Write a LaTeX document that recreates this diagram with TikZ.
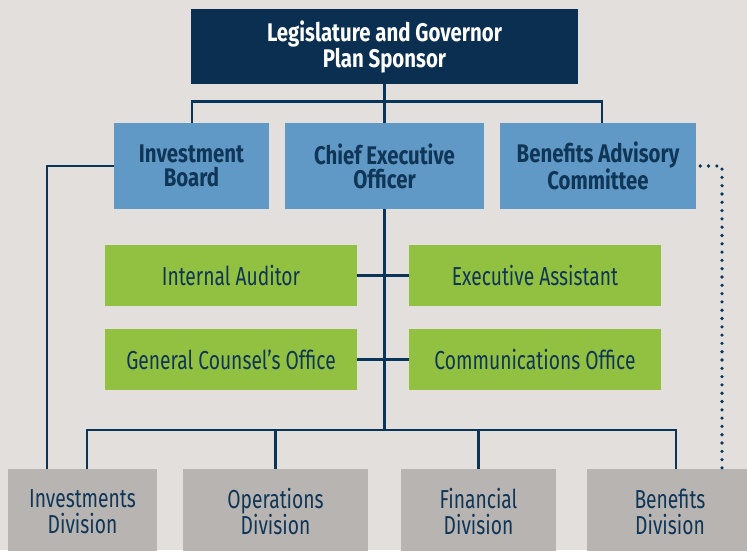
\documentclass[tikz,border=0pt]{standalone}
\usepackage{fontspec}
\setmainfont{Fira Sans}[FakeStretch=0.74, BoldFeatures={FakeStretch=0.8}]
\usetikzlibrary{calc}
\definecolor{bgc}{HTML}{E2DFDC}
\definecolor{navy}{HTML}{0A2F50}
\definecolor{linec}{HTML}{0B3558}
\definecolor{bluec}{HTML}{6199C6}
\definecolor{greenc}{HTML}{92C142}
\definecolor{grayc}{HTML}{B7B4B1}
\definecolor{txt}{HTML}{0F3557}
\tikzset{
  box/.style={rectangle, inner sep=0pt, align=center, font=\fontsize{26}{26}\selectfont},
  topbox/.style={box, fill=navy, text=white, font=\fontsize{25.5}{26}\selectfont\bfseries},
  bluebox/.style={box, fill=bluec, text=txt, minimum height=86pt, font=\fontsize{25.5}{24}\selectfont\bfseries},
  greenbox/.style={box, fill=greenc, text=txt, minimum width=252pt, minimum height=61pt},
  graybox/.style={box, fill=grayc, text=txt, minimum height=86pt, font=\fontsize{26}{26}\selectfont},
  link/.style={draw=linec, line width=2.2pt},
  dotlink/.style={draw=linec, line width=3.6pt, line cap=round, dash pattern=on 0pt off 8.3pt},
}
\begin{document}
\begin{tikzpicture}[x=1pt,y=-1pt]
\useasboundingbox (0,0) rectangle (747,550);
\fill[bgc] (0,0) rectangle (747,550);

% top level
\node[topbox, minimum width=387pt, minimum height=75pt] (sponsor) at (384.5,46.5) {Legislature and Governor\\Plan Sponsor};

% second level
\node[bluebox, minimum width=155pt] (board) at (191.5,166) {Investment\\Board};
\node[bluebox, minimum width=199pt] (ceo) at (384.5,166) {Chief Executive\\Officer};
\node[bluebox, minimum width=196pt] (bac) at (598,166) {Benefits Advisory\\Committee};

% staff offices
\node[greenbox] (audit) at (231,275.5) {Internal Auditor};
\node[greenbox] (assist) at (535,275.5) {Executive Assistant};
\node[greenbox] (counsel) at (231,359.5) {General Counsel’s Office};
\node[greenbox] (comms) at (535,359.5) {Communications Office};

% divisions
\node[graybox, minimum width=149pt] (invdiv) at (82.5,512) {Investments\\Division};
\node[graybox, minimum width=185pt] (opsdiv) at (275.5,512) {Operations\\Division};
\node[graybox, minimum width=155pt] (findiv) at (478.5,512) {Financial\\Division};
\node[graybox, minimum width=166pt] (bendiv) at (670,512) {Benefits\\Division};

% bus coordinates
\coordinate (topbus) at (192,101.5);
\coordinate (divbus) at (384.5,430);

% sponsor to second level
\draw[link] (sponsor.south) -- (ceo.north);
\draw[link] (board.north -| topbus) -- (topbus) -| ([xshift=4pt]bac.north);

% board to investments division
\draw[link] (board.west) -| ([xshift=-35.5pt]invdiv.north);

% advisory committee to benefits division
\draw[dotlink] ([xshift=4pt]bac.east) -| ([xshift=52pt]bendiv.north);

% staff links
\draw[link] (audit.east) -- (assist.west);
\draw[link] (counsel.east) -- (comms.west);

% ceo to divisions
\draw[link] (ceo.south) -- (divbus);
\draw[link] ([xshift=4.5pt]invdiv.north) |- (divbus) -| ([xshift=6pt]bendiv.north);
\draw[link] (opsdiv.north) -- (opsdiv.north |- divbus);
\draw[link] (findiv.north) -- (findiv.north |- divbus);
\end{tikzpicture}
\end{document}
